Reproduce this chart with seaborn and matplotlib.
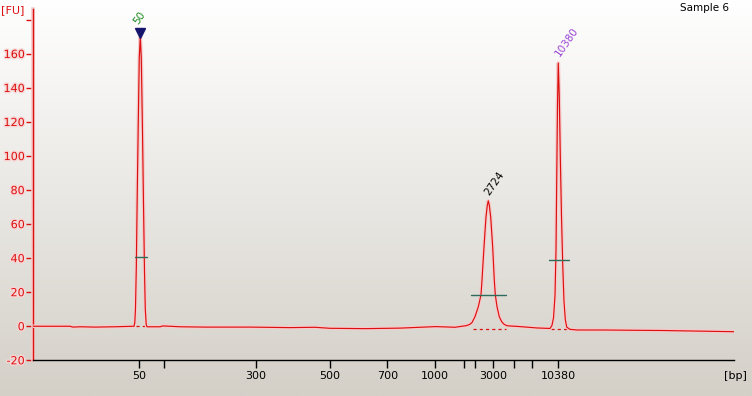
import matplotlib
matplotlib.use("Agg")
import matplotlib.pyplot as plt
import matplotlib.patheffects as pe
from matplotlib.colors import LinearSegmentedColormap
import numpy as np
import pandas as pd
import seaborn as sns

# migration time (s) and fluorescence (FU)
time_s = [20.00, 24.75, 25.13, 26.03, 27.96, 30.52, 32.96,
          33.06, 33.15, 33.26, 33.37, 33.51, 33.64, 33.77, 33.90, 34.05, 34.18, 34.31, 34.41, 34.53, 34.63,
          36.30, 36.68, 38.86, 42.07, 47.85, 52.98, 56.19, 58.11, 62.61, 67.10, 71.72, 74.16,
          75.66, 76.08, 76.34, 76.72, 77.15, 77.49, 77.62, 77.88, 78.13, 78.30, 78.43, 78.56, 78.74, 78.99, 79.20,
          79.33, 79.55, 79.84, 80.15, 80.44, 80.83, 82.50, 84.68,
          86.35, 86.60, 86.80, 86.99, 87.12, 87.22, 87.31, 87.41, 87.54, 87.67, 87.82, 87.99, 88.14,
          88.31, 88.49, 88.91, 89.81, 93.15, 97.90, 100.85, 105.98, 109.96]
fu = [0.0, 0.0, -0.5, -0.3, -0.5, -0.3, 0.0,
      2, 10, 35, 75, 120, 158, 170, 157, 115, 72, 32, 10, 1, -0.3,
      -0.3, 0.2, -0.3, -0.5, -0.5, -0.8, -0.6, -1.2, -1.4, -1.1, -0.2, -0.6,
      0.4, 1.2, 2.2, 5.6, 11.5, 18.4, 27, 46.7, 64, 71, 73.7, 71, 64, 46.7, 27,
      18.4, 11.5, 5.6, 2.7, 1.2, 0.3, -0.2, -1.0,
      -1.3, 0.5, 5, 18, 45, 90, 130, 154.6, 135, 100, 65, 35, 15,
      4, -0.5, -1.8, -2.2, -2.2, -2.4, -2.5, -2.9, -3.2]

# ladder (DNA 7500) positions and sizes
ladder_time = [33.64, 36.85, 48.62, 58.11, 65.47, 71.63, 75.27, 76.68, 79.07, 81.77, 84.08, 87.41]
ladder_bp = [50, 100, 300, 500, 700, 1000, 1500, 2000, 3000, 5000, 7000, 10380]
shown_bp = [50, 300, 500, 700, 1000, 3000, 10380]

# called peaks
peak_time = [33.73, 79.16, 88.53]
peak_label = ["50", "2724", "10380"]
peak_label_fu = [181, 84, 167]
peak_colors = ["#1e8a1e", "black", "#9b45d6"]
# region markers: start, end, level
mark_start = [33.08, 76.21, 86.22]
mark_end = [34.59, 80.66, 88.75]
mark_level = [40.5, 18.4, 39]
base_start = [33.21, 76.43, 86.48]
base_end = [34.37, 80.70, 88.66]
base_level = [0.0, -1.7, -1.5]

sns.set_style("ticks")
plt.rcParams["font.family"] = ["DejaVu Sans"]

df = pd.DataFrame({"time": time_s, "fu": fu})

fig = plt.figure(figsize=(7.52, 3.96), dpi=100)

# window background gradient
bg = fig.add_axes([0, 0, 1, 1], zorder=-10)
grad = np.linspace(0, 1, 256).reshape(-1, 1)
cmap = LinearSegmentedColormap.from_list("win", ["#ffffff", "#d4d0c8"])
bg.imshow(grad, aspect="auto", cmap=cmap, extent=[0, 1, 0, 1])
bg.axis("off")

ax = fig.add_axes([33 / 752, 1 - 360.3 / 396, (734.3 - 33) / 752, (360.3 - 9.3) / 396])
ax.patch.set_alpha(0)

red = "#dc1010"
glow = [pe.withStroke(linewidth=2.6, foreground="#f6caca")]

sns.lineplot(data=df, x="time", y="fu", ax=ax, color=red, linewidth=0.85,
             estimator=None, sort=False, path_effects=glow, zorder=3)

for s, e, lv in zip(mark_start, mark_end, mark_level):
    ax.plot([s, e], [lv, lv], color="#2e6b5c", linewidth=1.0, zorder=4)
for s, e, lv in zip(base_start, base_end, base_level):
    ax.plot([s, e], [lv, lv], color=red, linewidth=0.9, linestyle=(0, (2.5, 2.5)), zorder=2)

# lower marker triangle
ax.plot([peak_time[0]], [172.5], marker="v", markersize=7, color="#15156e", zorder=5)

for t, lab, lv, c in zip(peak_time, peak_label, peak_label_fu, peak_colors):
    ax.text(t, lv, lab, color=c, fontsize=7.5, rotation=55, ha="center", va="center")

ax.set_xlim(20, 110)
ax.set_ylim(-20, 186.2)

ax.set_xticks(ladder_time)
ax.set_xticklabels([str(b) if b in shown_bp else "" for b in ladder_bp])
yt = list(range(-20, 181, 20))
ax.set_yticks(yt)
ax.set_yticklabels([str(v) if v < 180 else "" for v in yt])

ax.tick_params(axis="x", direction="out", length=6, width=1, color="black",
               labelsize=8, pad=2, labelcolor="black")
ax.tick_params(axis="y", direction="out", length=5, width=1, color=red,
               labelsize=8, pad=1, labelcolor=red)
for lab in ax.get_yticklabels():
    lab.set_path_effects([pe.withStroke(linewidth=2, foreground="#f7d6d6")])

sns.despine(ax=ax)
ax.spines["left"].set_color(red)
ax.spines["left"].set_linewidth(1.0)
ax.spines["left"].set_path_effects(glow)
ax.spines["bottom"].set_color("black")
ax.spines["bottom"].set_linewidth(1.0)
ax.set_xlabel("")
ax.set_ylabel("")

fig.text(1 / 752, 1 - 10 / 396, "[FU]", color=red, fontsize=8, ha="left", va="center")
fig.text(705 / 752, 1 - 8 / 396, "Sample 6", color="black", fontsize=7.5, ha="center", va="center")
fig.text(735 / 752, 1 - 376 / 396, "[bp]", color="black", fontsize=8, ha="center", va="center")

fig.savefig("out.png", dpi=100)
